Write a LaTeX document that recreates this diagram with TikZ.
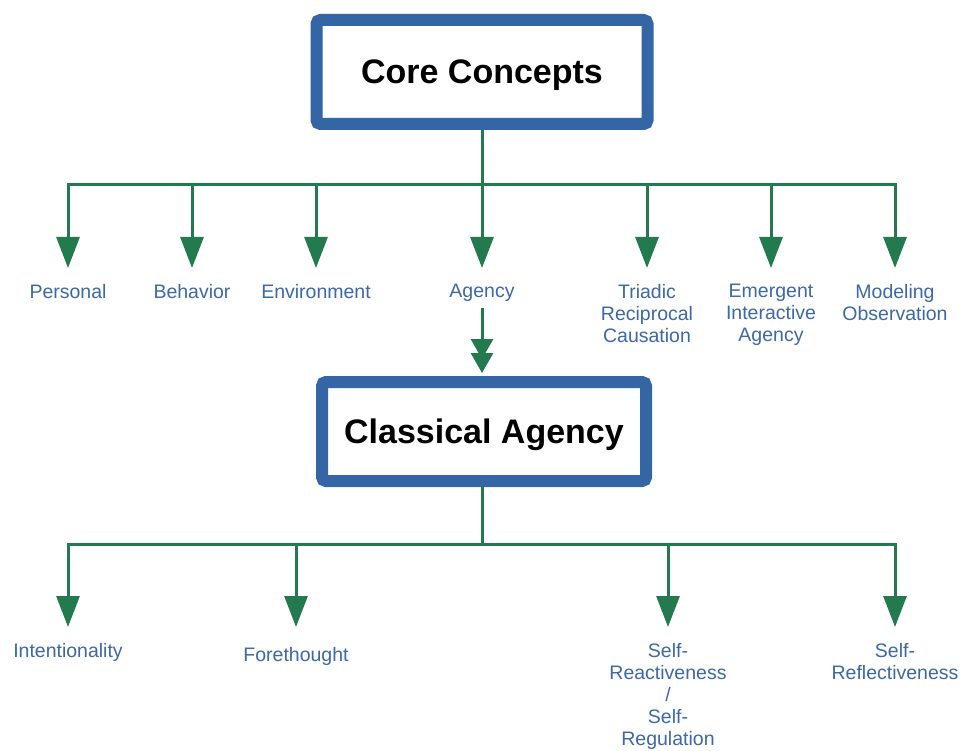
\documentclass[tikz,border=0pt]{standalone}
\usepackage{fontspec}
\setmainfont{Liberation Sans}
\usetikzlibrary{arrows.meta}
\definecolor{boxblue}{HTML}{3465A4}
\definecolor{linkgreen}{HTML}{237A4E}
\definecolor{labelblue}{HTML}{3C67A8}
\tikzset{
  headbox/.style={draw=boxblue, line width=12pt, rounded corners=4pt, fill=white,
    text depth=0pt, font=\fontsize{34}{40}\selectfont\bfseries, text=black},
  link/.style={draw=linkgreen, line width=3pt},
  arr/.style={link, -{Triangle[width=23pt,length=31pt]}},
  dblarr/.style={link, -{Triangle[width=22pt,length=20pt,sep=-6pt]Triangle[width=22pt,length=20pt]}},
  leaf/.style={anchor=north, inner sep=0pt, outer sep=0pt, align=center, text=labelblue,
    font=\fontsize{19.5}{22}\selectfont},
}
\begin{document}
\begin{tikzpicture}[x=1pt, y=-1pt]
\useasboundingbox (0,0) rectangle (963,751);

% upper level
\node[headbox, minimum width=331pt, minimum height=104pt] (core) at (482,72) {Core Concepts};
\coordinate (tbar) at (482,185);
\coordinate (tbarL) at (68,185);
\coordinate (tbarR) at (895,185);

\node[leaf] (personal) at (68,284) {Personal};
\node[leaf] (behavior) at (192,284) {Behavior};
\node[leaf] (environment) at (316,284) {Environment};
\node[leaf] (agency) at (482,284) {Agency};
\node[leaf] (triadic) at (647,284) {Triadic\\Reciprocal\\Causation};
\node[leaf] (emergent) at (771,284) {Emergent\\Interactive\\Agency};
\node[leaf] (modeling) at (895,284) {Modeling\\Observation};

\draw[link] (core.south) -- (tbar);
\draw[link, line cap=rect] (tbarL) -- (tbarR);
\foreach \n in {personal,behavior,environment,agency,triadic,emergent,modeling}
  \draw[arr, shorten >=16pt] (\n.north |- tbar) -- (\n.north);

% lower level
\node[headbox, minimum width=324pt, minimum height=99pt] (classical) at (484,431.5) {Classical Agency};
\draw[dblarr, shorten <=7pt, shorten >=3pt] (agency.south) -- (agency.south |- classical.north);

\coordinate (bbar) at (482,544);
\coordinate (bbarL) at (68,544);
\coordinate (bbarR) at (895,544);

\node[leaf] (intent) at (68,643) {Intentionality};
\node[leaf] (fore) at (296,647) {Forethought};
\node[leaf] (react) at (668,643) {Self-\\Reactiveness\\/\\Self-\\Regulation};
\node[leaf] (reflect) at (895,643) {Self-\\Reflectiveness};

\draw[link] (classical.south -| bbar) -- (bbar);
\draw[link, line cap=rect] (bbarL) -- (bbarR);
\draw[arr, shorten >=16pt] (intent.north |- bbar) -- (intent.north);
\draw[arr, shorten >=20pt] (fore.north |- bbar) -- (fore.north);
\draw[arr, shorten >=16pt] (react.north |- bbar) -- (react.north);
\draw[arr, shorten >=16pt] (reflect.north |- bbar) -- (reflect.north);
\end{tikzpicture}
\end{document}
